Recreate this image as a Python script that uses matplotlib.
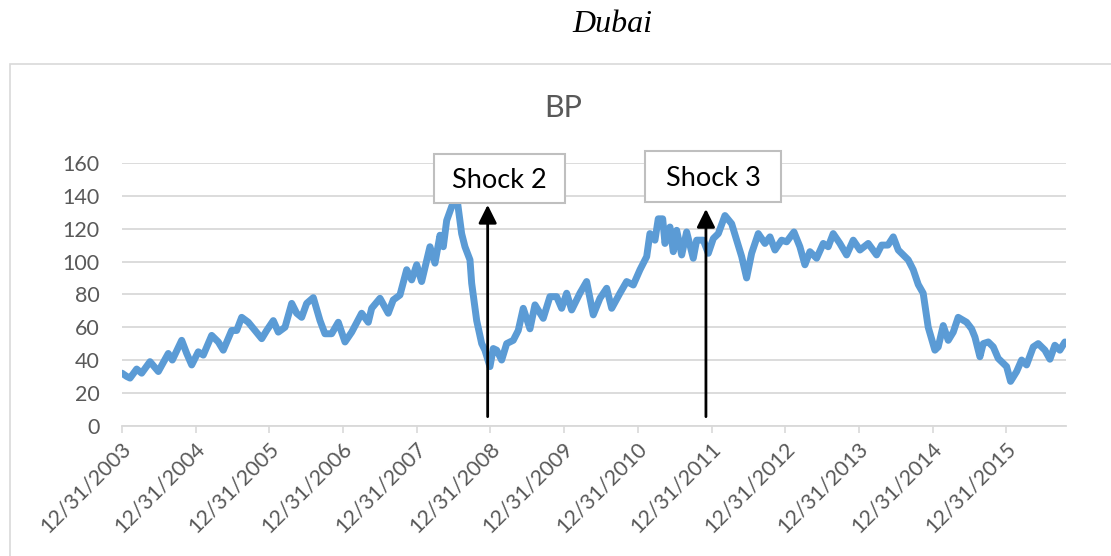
import matplotlib
matplotlib.use("Agg")
import matplotlib.pyplot as plt
from matplotlib.patches import Rectangle
import matplotlib.transforms as mtransforms

# ---- data (decimal years, value) ----
years = [2004.000, 2004.064, 2004.109, 2004.199, 2004.267, 2004.380, 2004.493, 2004.628,
         2004.683, 2004.810, 2004.878, 2004.946, 2005.035, 2005.103, 2005.217, 2005.307,
         2005.374, 2005.488, 2005.556, 2005.624, 2005.714, 2005.805, 2005.896, 2005.963,
         2006.053, 2006.121, 2006.212, 2006.303, 2006.370, 2006.438, 2006.506, 2006.596,
         2006.687, 2006.754, 2006.845, 2006.935, 2007.026, 2007.117, 2007.252, 2007.342,
         2007.388, 2007.501, 2007.613, 2007.681, 2007.772, 2007.863, 2007.931, 2007.999,
         2008.066, 2008.179, 2008.247, 2008.315, 2008.360, 2008.406, 2008.474, 2008.541,
         2008.609, 2008.654, 2008.722, 2008.745, 2008.813, 2008.881, 2008.925, 2008.993,
         2009.038, 2009.084, 2009.152, 2009.220, 2009.309, 2009.377, 2009.445, 2009.536,
         2009.604, 2009.716, 2009.807, 2009.898, 2009.966, 2010.034, 2010.102, 2010.214,
         2010.305, 2010.395, 2010.486, 2010.577, 2010.645, 2010.757, 2010.848, 2010.938,
         2011.029, 2011.120, 2011.164, 2011.232, 2011.277, 2011.337, 2011.368, 2011.436,
         2011.481, 2011.527, 2011.595, 2011.662, 2011.752, 2011.798, 2011.888, 2011.956,
         2012.024, 2012.092, 2012.182, 2012.273, 2012.341, 2012.409, 2012.476, 2012.544,
         2012.634, 2012.725, 2012.793, 2012.861, 2012.951, 2013.019, 2013.118, 2013.199,
         2013.267, 2013.335, 2013.426, 2013.516, 2013.583, 2013.651, 2013.742, 2013.833,
         2013.923, 2014.014, 2014.126, 2014.240, 2014.308, 2014.394, 2014.466, 2014.534,
         2014.669, 2014.737, 2014.805, 2014.872, 2014.940, 2015.031, 2015.076, 2015.144,
         2015.212, 2015.280, 2015.347, 2015.461, 2015.529, 2015.574, 2015.642, 2015.687,
         2015.755, 2015.823, 2015.890, 2016.004, 2016.058, 2016.140, 2016.208, 2016.275,
         2016.366, 2016.433, 2016.524, 2016.592, 2016.659, 2016.727, 2016.795]
bp = [32, 30, 29, 34.5, 32, 39, 33, 44,
      40, 52, 44, 37, 45, 43, 55, 51,
      46, 58, 58, 66, 63, 58, 53, 58,
      64, 57, 60, 74.5, 68.5, 66, 74.5, 78,
      64, 56, 56, 63, 51, 57, 68.5, 63,
      71.5, 77.6, 68.5, 76.6, 79.6, 95, 88.8, 98,
      87.8, 109, 99, 116, 109, 125, 133.5, 140,
      117, 109, 101, 86.8, 64, 50, 46, 36,
      47, 46, 40, 50, 52, 58, 71.5, 59,
      73.6, 65.4, 78.6, 78.6, 71.5, 80.7, 70.5, 80.7,
      87.8, 67.5, 77.6, 83.7, 71.5, 80.7, 87.8, 85.7,
      95, 103, 117, 113, 126, 126, 111, 121,
      106, 119, 104, 118, 102, 113, 113, 105,
      114, 117, 128, 123, 113, 103, 90, 105,
      117, 111, 115, 107, 113, 112, 118, 109,
      98, 106, 102, 111, 109, 117, 111, 104,
      113, 107, 111, 104, 110, 110, 115, 107,
      101, 95, 86, 80.7, 60, 46, 48, 61,
      52, 57, 66, 63, 59, 54, 42, 50,
      51, 48, 41, 36, 27, 33, 40, 37,
      48, 50, 46, 40.5, 49, 46, 51]
tick_years = list(range(2004, 2017))
tick_labels = ["12/31/2003", "12/31/2004", "12/31/2005", "12/31/2006", "12/31/2007",
               "12/31/2008", "12/31/2009", "12/31/2010", "12/31/2011", "12/31/2012",
               "12/31/2013", "12/31/2014", "12/31/2015"]
y_ticks = [0, 20, 40, 60, 80, 100, 120, 140, 160]

W, H = 1111, 556
fig = plt.figure(figsize=(W / 100, H / 100), dpi=100)
fig.patch.set_facecolor("white")

# chart-area border
fig.patches.append(Rectangle((10 / W, -0.2), 1.5, 0.2 + 1 - 64 / H, transform=fig.transFigure,
                             fill=False, edgecolor="#d9d9d9", lw=1.2))

ax = fig.add_axes([122 / W, 1 - 425.7 / H, 944 / W, (425.7 - 163) / H])
ax.plot(years, bp, color="#5b9bd5", lw=5.0, solid_joinstyle="round", solid_capstyle="round",
        zorder=3)
ax.set_xlim(2004.0, 2016.81)
ax.set_ylim(0, 160)
ax.set_yticks(y_ticks)
ax.set_xticks(tick_years[:len(tick_labels)])
ax.yaxis.grid(True, color="#d9d9d9", lw=1.3)
ax.set_axisbelow(True)
for s in ["left", "right", "top"]:
    ax.spines[s].set_visible(False)
ax.spines["bottom"].set_color("#d9d9d9")
ax.spines["bottom"].set_linewidth(1.3)
ax.tick_params(axis="y", length=0, pad=16, labelsize=15.5, labelcolor="#595959")
ax.tick_params(axis="x", length=5, width=1.2, color="#d9d9d9", pad=9, labelsize=15.5,
               labelcolor="#595959", direction="out")
ax.set_xticklabels(tick_labels, rotation=45, ha="right", rotation_mode="anchor", va="center")
shift = mtransforms.ScaledTranslation(6 / 100, 0, fig.dpi_scale_trans)
for lab in ax.get_xticklabels():
    lab.set_transform(lab.get_transform() + shift)
for lab in ax.get_yticklabels() + ax.get_xticklabels():
    lab.set_fontfamily("Lato")

fig.text(563 / W, 1 - 108 / H, "BP", ha="center", va="center", fontsize=22, color="#595959",
         fontfamily="Lato")

fig.text(612 / W, 1 - 24 / H, "Dubai", ha="center", va="center", fontsize=23,
         fontstyle="italic", fontfamily="Liberation Serif", color="black")

# shock annotations
shocks = [
    ("Shock 2", 2008.233, 2010.011, 135.5, 165.6, 2008.962, 134.5),
    ("Shock 3", 2011.100, 2012.938, 136.3, 167.4, 2011.924, 132.0),
]
for label, x0, x1, y0, y1, ax_x, tip in shocks:
    ax.add_patch(Rectangle((x0, y0), x1 - x0, y1 - y0, facecolor="white", edgecolor="#bfbfbf",
                           lw=1.5, clip_on=False, zorder=5))
    ax.text((x0 + x1) / 2, (y0 + y1) / 2 - 1.5, label, ha="center", va="center", fontsize=19.5,
            fontfamily="Lato", color="black", zorder=6)
    ax.annotate("", xy=(ax_x, tip), xytext=(ax_x, 5.5),
                arrowprops=dict(arrowstyle="-|>,head_length=1.0,head_width=0.5", color="black",
                                lw=2.0, mutation_scale=11, shrinkA=0, shrinkB=0),
                zorder=7, annotation_clip=False)

fig.savefig("out.png", dpi=100, facecolor="white")
